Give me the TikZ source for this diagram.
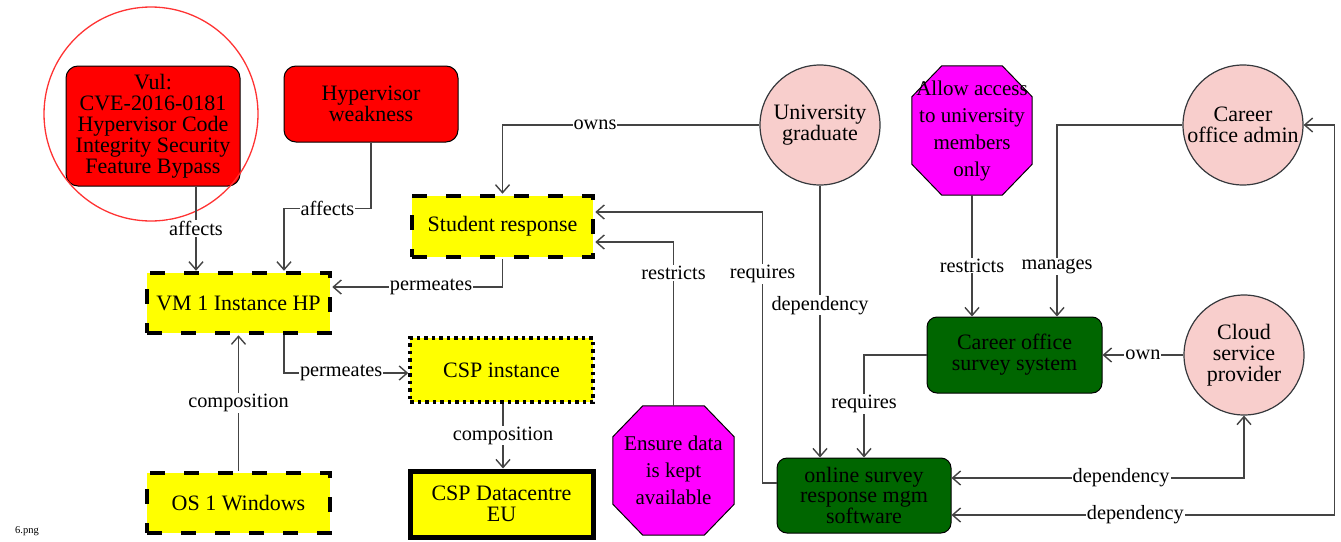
\documentclass[tikz,border=0pt]{standalone}
\usepackage{fontspec}
\setmainfont{Liberation Serif}
\usetikzlibrary{arrows.meta,backgrounds,calc}

\definecolor{vred}{HTML}{FF0000}
\definecolor{vyellow}{HTML}{FFFF00}
\definecolor{vgreen}{HTML}{006600}
\definecolor{vpink}{HTML}{F8CECC}
\definecolor{vmagenta}{HTML}{FF00FF}
\definecolor{vgrey}{HTML}{36393D}
\definecolor{vline}{HTML}{444444}
\definecolor{hlred}{HTML}{FF3333}

\begin{document}
\begin{tikzpicture}[x=1pt,y=-1pt,
  base/.style={font=\fontsize{22}{21}\selectfont, align=center, inner sep=0pt, text=black},
  redbox/.style={base, draw=black, line width=1pt, fill=vred, rounded corners=12pt},
  ybox/.style={base, fill=vyellow, draw=black},
  dashbox/.style={ybox, line width=4.5pt, dash pattern=on 15pt off 19pt},
  dotbox/.style={ybox, line width=3.5pt, dash pattern=on 3.5pt off 4pt},
  thickbox/.style={ybox, line width=5pt},
  greenbox/.style={base, fill=vgreen, draw=black, line width=1pt, rounded corners=10pt},
  actor/.style={base, circle, fill=vpink, draw=vgrey, line width=1.2pt, minimum size=120pt},
  goal/.style={base, font=\fontsize{21}{27}\selectfont},
  goalshape/.style={fill=vmagenta, draw=black, line width=1pt},
  barb/.tip={Straight Barb[length=8pt,width=14pt]},
  edge/.style={draw=vline, line width=1.4pt, -barb},
  both/.style={draw=vline, line width=1.4pt, barb-barb},
  lbl/.style={fill=white, inner sep=1pt, font=\fontsize{20.3}{20}\selectfont, text=black},
]
\useasboundingbox (0,0) rectangle (1341,541);

% vulnerabilities
\node[redbox, minimum width=174pt, minimum height=120pt] (vul) at (153,126)
  {Vul:\\CVE-2016-0181\\Hypervisor Code\\Integrity Security\\Feature Bypass};
\node[redbox, minimum width=174pt, minimum height=76pt] (hyp) at (371,104)
  {Hypervisor\\weakness};
\node[circle, draw=hlred, line width=1.3pt, minimum size=214pt, inner sep=0pt] (hl) at (151,114) {};

% assets
\node[dashbox, minimum width=183pt, minimum height=60pt] (vm) at (238.5,303) {VM 1 Instance HP};
\node[dashbox, minimum width=183pt, minimum height=60pt] (os) at (238.5,503) {OS 1 Windows};
\node[dashbox, minimum width=181pt, minimum height=61pt] (stu) at (502.5,226.5) {Student response};
\node[dotbox, minimum width=183pt, minimum height=64pt] (cspi) at (501.5,370) {CSP instance};
\node[thickbox, minimum width=183pt, minimum height=66pt] (cspd) at (501.5,504) {CSP Datacentre\\EU};

% actors
\node[actor] (ug) at (820,125) {University\\graduate};
\node[actor] (coa) at (1243,125) {Career\\office admin};
\node[actor] (cloud) at (1244,355) {Cloud\\service\\provider};

% systems
\node[greenbox, minimum width=175pt, minimum height=76pt] (coss) at (1014.5,355) {Career office\\survey system};
\node[greenbox, minimum width=174pt, minimum height=75pt, font=\fontsize{22}{20}\selectfont] (osr) at (864,495.5)
  {online survey\\response mgm\\software};

% goals
\node[goal, minimum width=120pt, minimum height=129pt] (allow) at (972,130.5)
  {Allow access\\to university\\members\\only};
\node[goal, minimum width=121pt, minimum height=129pt] (ensure) at (673.5,470.5)
  {Ensure data\\is kept\\available};

\begin{scope}[on background layer]
  \fill[white] (0,0) rectangle (1341,541);
  \foreach \g in {allow,ensure}{
    \draw[goalshape]
      ([xshift=30pt]\g.north west) -- ([xshift=-30pt]\g.north east)
      -- ([yshift=-31pt]\g.north east) -- ([yshift=31pt]\g.south east)
      -- ([xshift=-30pt]\g.south east) -- ([xshift=30pt]\g.south west)
      -- ([yshift=31pt]\g.south west) -- ([yshift=-31pt]\g.north west) -- cycle;
  }
\end{scope}

% relations
\draw[edge] ([xshift=43pt]vul.south) -- node[lbl]{affects} ([xshift=43pt]vul.south |- vm.north);
\draw[edge] (hyp.south) -- ++(0,66) -| node[lbl,pos=0.25]{affects} ([xshift=45.5pt]vm.north);
\draw[edge] (stu.south) |- node[lbl,pos=0.71]{permeates} ([yshift=16pt]vm.east);
\draw[edge] ([xshift=45.5pt]vm.south) |- node[lbl,pos=0.73]{permeates} ([yshift=-3pt]cspi.west);
\draw[edge] (os.north) -- node[lbl]{composition} (vm.south);
\draw[edge] ([xshift=1.5pt]cspi.south) -- node[lbl,pos=0.49]{composition} ([xshift=1.5pt]cspd.north);
\draw[edge] (ug.west) -| node[lbl,pos=0.32]{owns} (stu.north);
\draw[edge] (ensure.north) |- node[lbl,pos=0.405]{restricts} ([yshift=-15.5pt]stu.east);
\draw[edge] ([yshift=12.5pt]osr.west) -- ++(-14,0) |- node[lbl,pos=0.385]{requires} ([yshift=14.5pt]stu.east);
\draw[edge] (ug.south) -- node[lbl,pos=0.44]{dependency} (ug.south |- osr.north);
\draw[edge] (allow.south) -- node[lbl,pos=0.58]{restricts} (allow.south |- coss.north);
\draw[edge] (coa.west) -| node[lbl,pos=0.87]{manages} ([xshift=42.5pt]coss.north);
\draw[edge] (cloud.west) -- node[lbl]{own} (cloud.west -| coss.east);
\draw[edge] (coss.west) -| node[lbl,pos=0.74]{requires} (osr.north);
\draw[both] ([yshift=17.5pt]osr.east) -| node[lbl,pos=0.29]{dependency} (cloud.south);
\draw[both] ([yshift=-19.5pt]osr.east) -| node[lbl,pos=0.24]{dependency} ([xshift=31pt]coa.east) -- (coa.east);

% file caption
\node[font=\fontsize{10.5}{12}\selectfont, anchor=west, inner sep=0pt] (cap) at (15,531) {6.png};
\end{tikzpicture}
\end{document}
